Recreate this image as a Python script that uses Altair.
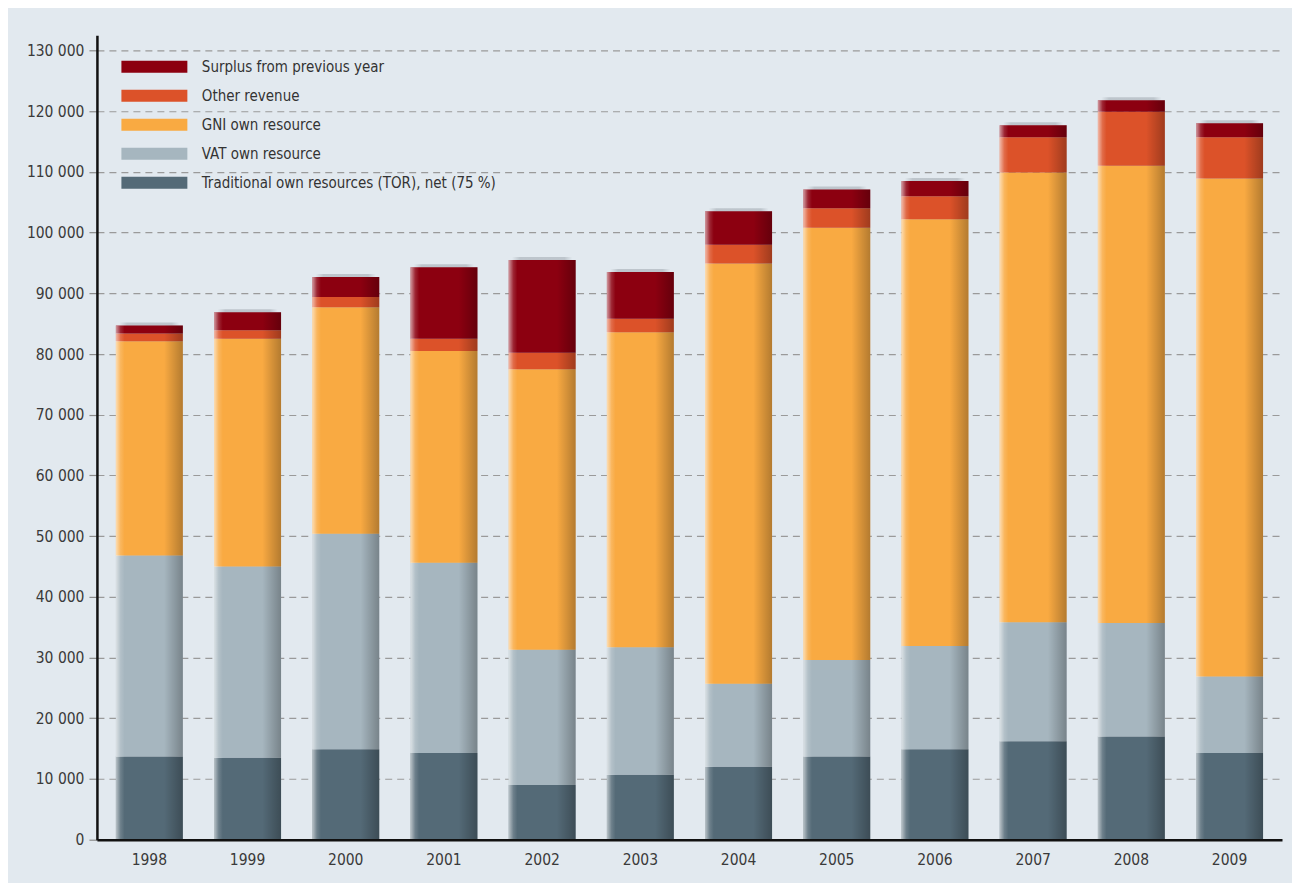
import altair as alt
import pandas as pd

FONT = "Liberation Sans Narrow, DejaVu Sans Condensed, sans-serif"

years = ["1998", "1999", "2000", "2001", "2002", "2003",
         "2004", "2005", "2006", "2007", "2008", "2009"]

series = ["Surplus from previous year", "Other revenue", "GNI own resource",
          "VAT own resource", "Traditional own resources (TOR), net (75 %)"]
colors = ["#8c0010", "#dc5229", "#f9aa42", "#a6b6bf", "#546a77"]

tor = [13700, 13500, 14900, 14300, 9000, 10700, 12000, 13700, 14900, 16200, 17000, 14300]
vat = [33100, 31500, 35500, 31300, 22300, 21000, 13700, 15900, 17000, 19600, 18700, 12600]
gni = [35300, 37500, 37300, 34900, 46200, 51900, 69200, 71200, 70300, 74100, 75300, 82000]
other = [1300, 1400, 1700, 2000, 2700, 2200, 3100, 3200, 3800, 5800, 8900, 6800]
surplus = [1300, 3000, 3300, 11800, 15300, 7700, 5500, 3100, 2500, 2000, 1900, 2300]

stack_bottom_up = [(series[4], tor), (series[3], vat), (series[2], gni),
                   (series[1], other), (series[0], surplus)]

rows = []
for i, yr in enumerate(years):
    for k, (name, vals) in enumerate(stack_bottom_up):
        rows.append({"year": yr, "series": name, "value": vals[i], "order": k})
df = pd.DataFrame(rows)

yscale = alt.Scale(domain=[0, 132500], nice=False, zero=True)
yaxis = alt.Axis(
    values=list(range(0, 130001, 10000)),
    labelExpr="replace(format(datum.value, ','), ',', ' ')",
    labelFont=FONT, labelFontSize=15.5, labelColor="#3a3a3a", labelPadding=5,
    tickColor="#8a8a8a", tickSize=8, tickWidth=1.2,
    domainColor="#111111", domainWidth=2.5,
    grid=True, gridColor="#9a9a9a", gridDash=[7, 5], gridWidth=1.2,
    title=None,
)
xaxis = alt.Axis(
    labelAngle=0, ticks=False, domainColor="#111111", domainWidth=2.5,
    labelPadding=13, labelFontSize=15.5, labelColor="#3a3a3a", labelFont=FONT,
    grid=False, title=None, zindex=1,
)
xscale = alt.Scale(paddingInner=0.318, paddingOuter=0.193)
xenc = alt.X("year:N", scale=xscale, axis=xaxis, title=None)

shadow_grad = alt.Gradient(
    gradient="linear", x1=0, x2=1, y1=0, y2=0,
    stops=[
        alt.GradientStop(color="rgba(60,70,80,0)", offset=0),
        alt.GradientStop(color="rgba(60,70,80,0.22)", offset=0.13),
        alt.GradientStop(color="rgba(60,70,80,0.22)", offset=0.87),
        alt.GradientStop(color="rgba(60,70,80,0)", offset=1),
    ],
)
overlay_grad = alt.Gradient(
    gradient="linear", x1=0, x2=1, y1=0, y2=0,
    stops=[
        alt.GradientStop(color="rgba(255,255,255,0.6)", offset=0),
        alt.GradientStop(color="rgba(255,255,255,0.15)", offset=0.07),
        alt.GradientStop(color="rgba(255,255,255,0)", offset=0.13),
        alt.GradientStop(color="rgba(0,0,0,0)", offset=0.72),
        alt.GradientStop(color="rgba(0,0,0,0.28)", offset=1),
    ],
)

totals = alt.Chart(df).transform_aggregate(total="sum(value)", groupby=["year"])

shadow = totals.mark_bar(color=shadow_grad, width=alt.RelativeBandSize(0.9), yOffset=-3).encode(
    x=xenc,
    y=alt.Y("total:Q", scale=yscale, axis=yaxis, title=None),
    y2=alt.datum(0),
)

bars = alt.Chart(df).mark_bar().encode(
    x=xenc,
    y=alt.Y("value:Q", stack="zero", scale=yscale, axis=yaxis, title=None),
    color=alt.Color(
        "series:N",
        scale=alt.Scale(domain=series, range=colors),
        legend=alt.Legend(
            title=None, orient="none", legendX=50, legendY=24, padding=0,
            symbolType="M-5.5,-1H5.5V1H-5.5Z", symbolSize=144,
            symbolStrokeWidth=0, symbolOpacity=1,
            labelFont=FONT, labelFontSize=15, labelColor="#333333",
            labelOffset=40, rowPadding=13, labelLimit=400,
        ),
    ),
    order=alt.Order("order:Q", sort="ascending"),
)

overlay = totals.mark_bar(color=overlay_grad).encode(
    x=xenc,
    y=alt.Y("total:Q", scale=yscale, axis=yaxis, title=None),
    y2=alt.datum(0),
)

chart = (
    alt.layer(shadow, bars, overlay)
    .properties(
        width=1186, height=805,
        autosize=alt.AutoSizeParams(type="none"),
        padding={"left": 89, "top": 27, "right": 10, "bottom": 43},
        background="#e2e9ef",
    )
    .configure_view(stroke=None)
)

chart.save("out.html", embed_options={"renderer": "svg", "actions": False})
